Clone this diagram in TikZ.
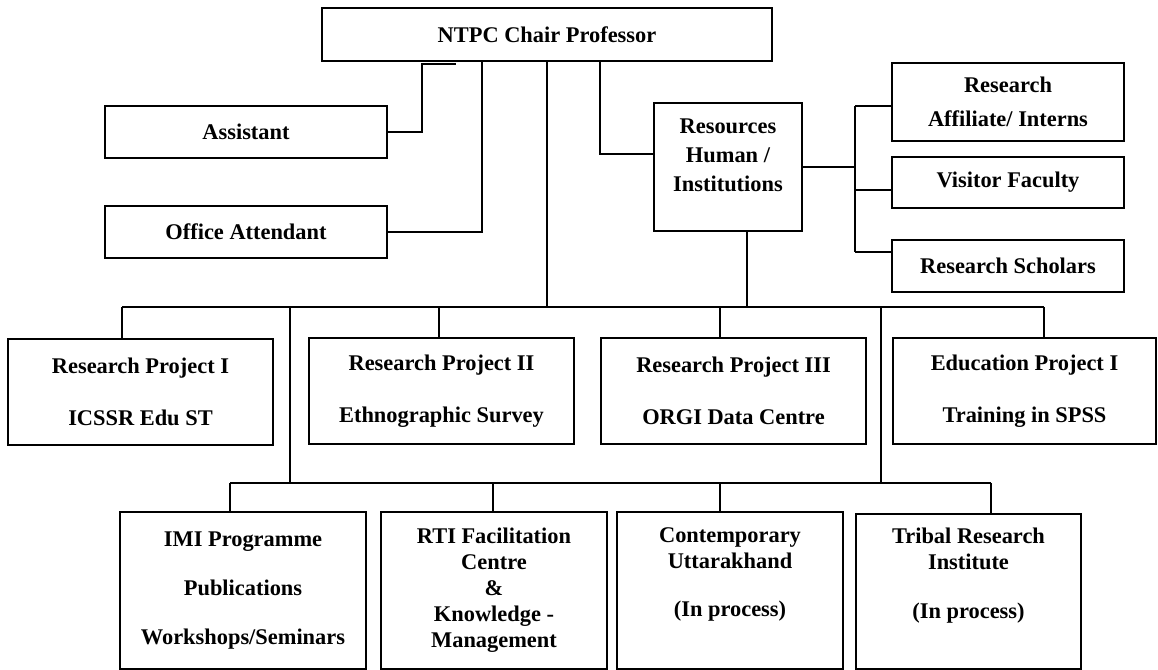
\documentclass[tikz,border=0pt]{standalone}
\usepackage{fontspec}
\setmainfont{Liberation Serif}
\usetikzlibrary{calc}

\begin{document}
\begin{tikzpicture}
  [x=0.75pt,y=-0.75pt,line width=1.4pt,
   every node/.style={draw,rectangle,align=center,inner sep=2pt,
     font=\bfseries\fontsize{16.8}{19.5}\selectfont}]
  \useasboundingbox (0,0) rectangle (1158,670);
  % head and staff
  \node[minimum width=337.5pt,minimum height=39.75pt] (ntpc) at (547,34.5) {NTPC Chair Professor};
  \node[minimum width=211.5pt,minimum height=39pt] (asst) at (246,132) {Assistant};
  \node[minimum width=211.5pt,minimum height=39pt] (office) at (246,232) {Office Attendant};
  \node[minimum width=111pt,minimum height=96pt] (res) at (728,167) {Resources\\[2pt]Human /\\[2pt]Institutions\\[-2pt]~};
  \node[minimum width=174pt,minimum height=58.5pt] (ra) at (1008,102) {Research\\[6pt]Affiliate/ Interns};
  \node[minimum width=174pt,minimum height=38.25pt] (vf) at (1008,182.5) {Visitor Faculty};
  \node[minimum width=174pt,minimum height=39pt] (rs) at (1008,266) {Research Scholars};
  % projects
  \node[minimum width=198.75pt,minimum height=79.5pt] (rp1) at (140.5,392) {Research Project I\\[19.5pt]ICSSR Edu ST};
  \node[minimum width=198.75pt,minimum height=79.5pt] (rp2) at (441.5,391) {Research Project II\\[19.5pt]Ethnographic Survey};
  \node[minimum width=198.75pt,minimum height=79.5pt] (rp3) at (733.5,391) {Research Project III\\[19.5pt]ORGI Data Centre};
  \node[minimum width=197.25pt,minimum height=79.5pt] (ep1) at (1024.5,391) {Education Project I\\[19.5pt]Training in SPSS};
  % lower row
  \node[minimum width=184.5pt,minimum height=117.75pt] (imi) at (243,590.5) {IMI Programme\\[17pt]Publications\\[17pt]Workshops/Seminars};
  \node[minimum width=169.5pt,minimum height=117.75pt] (rti) at (494,590.5) {RTI Facilitation\\Centre\\\&\\Knowledge -\\Management};
  \node[minimum width=169.5pt,minimum height=117.75pt] (cu) at (730,590.5) {Contemporary\\Uttarakhand\\[17pt](In process)\\[8pt]~};
  \node[minimum width=168.75pt,minimum height=116.25pt] (tri) at (968.5,591.5) {Tribal Research\\Institute\\[17pt](In process)\\[8pt]~};
  % bus lines
  \coordinate (bus1w) at (122,307);
  \coordinate (bus1e) at (1044,307);
  \coordinate (bus2w) at (230,483);
  \coordinate (bus2e) at (991,483);
  \coordinate (rbus1) at (855,106);
  \coordinate (rbus2) at (855,190);
  \coordinate (rbus3) at (855,252);
  \coordinate (resdrop) at ($(res.south)+(19,0)$);
  \draw (asst.east) -| ($(ntpc.south west)+(101,2.5)$) -- ++(34,0);
  \draw (office.east) -| ($(ntpc.south west)+(161,0)$);
  \draw (ntpc.south) -- (ntpc.south |- bus1w);
  \draw ($(ntpc.south)+(53,0)$) |- ($(res.west)+(0,-13)$);
  \draw (resdrop) -- (resdrop |- bus1w);
  \draw (res.east) -- (res.east -| rbus1);
  \draw (rbus1) -- (rbus3);
  \foreach \b/\n in {rbus1/ra,rbus2/vf,rbus3/rs}
    \draw (\b) -- (\b -| \n.west);
  \draw (bus1w) -- (bus1e);
  \foreach \x/\n in {122/rp1,439/rp2,720/rp3,1044/ep1}
    {\coordinate (top-\n) at (\x,307);
     \draw (top-\n) -- (top-\n |- \n.north);}
  \foreach \x in {290,881}
    {\coordinate (link-\x) at (\x,307);
     \draw (link-\x) -- (link-\x |- bus2w);}
  \draw (bus2w) -- (bus2e);
  \foreach \x/\n in {230/imi,493/rti,720/cu,991/tri}
    {\coordinate (low-\n) at (\x,483);
     \draw (low-\n) -- (low-\n |- \n.north);}
\end{tikzpicture}
\end{document}
